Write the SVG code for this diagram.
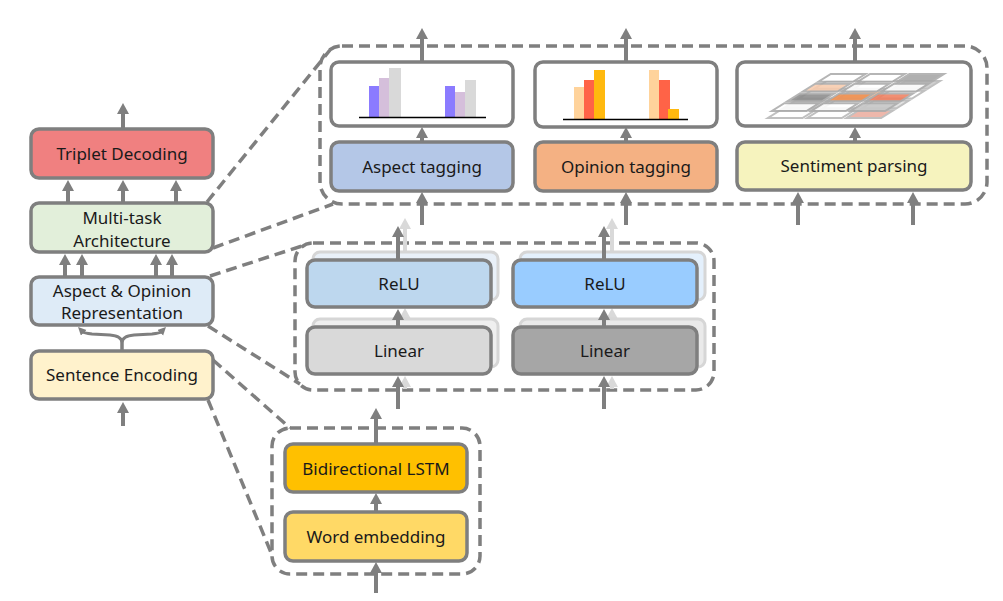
<svg xmlns="http://www.w3.org/2000/svg" width="1003" height="601" viewBox="0 0 1003 601">
<defs>
<style>
.box{stroke:#7F7F7F;stroke-width:3.5}
.sh{stroke:#D6D6D6;stroke-width:3}
.grp{fill:none;stroke:#7F7F7F;stroke-width:3.5;stroke-dasharray:11 6}
.dl{fill:none;stroke:#7F7F7F;stroke-width:3.5;stroke-dasharray:11 6}
.ar{stroke:#7F7F7F;stroke-width:4;fill:none;marker-end:url(#ah)}
.arl{stroke:#D9D9D9;stroke-width:4;fill:none;marker-end:url(#ahl)}
.ars{stroke:#7F7F7F;stroke-width:3;fill:none;marker-end:url(#ahs)}
text{font-family:"Noto Sans","Open Sans","DejaVu Sans",sans-serif;font-size:17px;fill:#1A1A1A;text-anchor:middle}
.cell{stroke:#ABABAB;stroke-width:2}
</style>
<marker id="ah" markerUnits="userSpaceOnUse" markerWidth="14" markerHeight="14" refX="2" refY="6" orient="auto"><path d="M0,0 L11,6 L0,12 z" fill="#7F7F7F"/></marker>
<marker id="ahl" markerUnits="userSpaceOnUse" markerWidth="14" markerHeight="14" refX="2" refY="6" orient="auto"><path d="M0,0 L11,6 L0,12 z" fill="#D9D9D9"/></marker>
<marker id="ahs" markerUnits="userSpaceOnUse" markerWidth="10" markerHeight="10" refX="1" refY="4" orient="auto"><path d="M0,0 L8,4 L0,8 z" fill="#7F7F7F"/></marker>
</defs>
<rect width="1003" height="601" fill="#FFFFFF"/>

<g id="group-outlines">
<rect class="grp" x="320" y="46" width="667" height="158" rx="22"/>
<rect class="grp" x="295" y="243" width="419" height="147" rx="18"/>
<rect class="grp" x="272" y="428" width="208" height="146" rx="18"/>
</g>

<g id="connectors">
<line class="dl" x1="207" y1="202" x2="330" y2="50"/>
<line class="dl" x1="213" y1="248" x2="333" y2="204"/>
<line class="dl" x1="210" y1="276" x2="305" y2="245"/>
<line class="dl" x1="208" y1="326" x2="300" y2="384"/>
<line class="dl" x1="213" y1="360" x2="290" y2="428"/>
<line class="dl" x1="208" y1="400" x2="272" y2="555"/>
<line class="arl" x1="405" y1="252" x2="405" y2="227"/>
<line class="arl" x1="612" y1="252" x2="612" y2="227"/>
<line class="arl" x1="405" y1="320" x2="405" y2="317"/>
<line class="arl" x1="612" y1="320" x2="612" y2="317"/>
<line class="arl" x1="405" y1="389" x2="405" y2="385"/>
<line class="arl" x1="612" y1="389" x2="612" y2="385"/>
</g>

<g id="shadows">
<rect class="sh" x="313" y="252" width="185" height="48" rx="7" fill="#E9F0F8"/>
<rect class="sh" x="313" y="319" width="185" height="48" rx="7" fill="#EFEFEF"/>
<rect class="sh" x="520" y="252" width="185" height="48" rx="7" fill="#E4F0FC"/>
<rect class="sh" x="520" y="319" width="185" height="48" rx="7" fill="#EAEAEA"/>
</g>

<g id="triplet-decoding">
<rect class="box" x="31" y="129" width="182" height="49" rx="8" fill="#F08080"/>
<text x="122" y="160">Triplet Decoding</text>
</g>
<g id="multi-task-architecture">
<rect class="box" x="31" y="203" width="182" height="49" rx="8" fill="#E2EFDA"/>
<text x="122" y="224">Multi-task</text>
<text x="122" y="247">Architecture</text>
</g>
<g id="aspect-opinion-representation">
<rect class="box" x="31" y="277" width="182" height="48" rx="8" fill="#DEEBF7"/>
<text x="122" y="297">Aspect &amp; Opinion</text>
<text x="122" y="319">Representation</text>
</g>
<g id="sentence-encoding">
<rect class="box" x="31" y="351" width="182" height="48" rx="8" fill="#FFF2CC"/>
<text x="122" y="381">Sentence Encoding</text>
</g>

<g id="aspect-chart">
<rect class="box" x="331" y="62" width="182" height="64" rx="8" fill="#FFFFFF"/>
<rect x="369" y="86" width="10" height="31" fill="#8B7BFF"/>
<rect x="379" y="78" width="10" height="39" fill="#D5BFDB"/>
<rect x="389" y="68" width="12" height="49" fill="#D9D9D9"/>
<rect x="445" y="86" width="10" height="31" fill="#8B7BFF"/>
<rect x="455" y="92" width="10" height="25" fill="#D5BFDB"/>
<rect x="465" y="80" width="11" height="37" fill="#D9D9D9"/>
<line x1="359" y1="117.5" x2="486" y2="117.5" stroke="#000" stroke-width="1.5"/>
</g>
<g id="opinion-chart">
<rect class="box" x="535" y="62" width="182" height="65" rx="8" fill="#FFFFFF"/>
<rect x="574" y="87" width="10" height="32" fill="#FFD39B"/>
<rect x="584" y="80" width="10" height="39" fill="#FF6347"/>
<rect x="594" y="70" width="11" height="49" fill="#FFB90F"/>
<rect x="649" y="70" width="10" height="49" fill="#FFD39B"/>
<rect x="659" y="80" width="11" height="39" fill="#FF6347"/>
<rect x="668" y="109" width="11" height="10" fill="#FFB90F"/>
<line x1="563" y1="119.5" x2="688" y2="119.5" stroke="#000" stroke-width="1.5"/>
</g>
<g id="sentiment-grid">
<rect class="box" x="737" y="62" width="234" height="64" rx="8" fill="#FFFFFF"/>
<g opacity="0.75" transform="matrix(39.3,0,-15.5,9.75,826,80)">
<rect class="cell" vector-effect="non-scaling-stroke" x="0.06" y="0.1" width="0.88" height="0.8" fill="#FFFFFF"/>
<rect class="cell" vector-effect="non-scaling-stroke" x="1.06" y="0.1" width="0.88" height="0.8" fill="#FFFFFF"/>
<rect class="cell" vector-effect="non-scaling-stroke" x="2.06" y="0.1" width="0.88" height="0.8" fill="#BFBFBF"/>
<rect class="cell" vector-effect="non-scaling-stroke" x="0.06" y="1.1" width="0.88" height="0.8" fill="#FFFFFF"/>
<rect class="cell" vector-effect="non-scaling-stroke" x="1.06" y="1.1" width="0.88" height="0.8" fill="#F4B183"/>
<rect class="cell" vector-effect="non-scaling-stroke" x="2.06" y="1.1" width="0.88" height="0.8" fill="#FFFFFF"/>
<rect class="cell" vector-effect="non-scaling-stroke" x="0.06" y="2.1" width="0.88" height="0.8" fill="#BFBFBF"/>
<rect class="cell" vector-effect="non-scaling-stroke" x="1.06" y="2.1" width="0.88" height="0.8" fill="#FFFFFF"/>
<rect class="cell" vector-effect="non-scaling-stroke" x="2.06" y="2.1" width="0.88" height="0.8" fill="#D9D9D9"/>
<rect class="cell" vector-effect="non-scaling-stroke" x="0.06" y="3.1" width="0.88" height="0.8" fill="#FFFFFF"/>
<rect class="cell" vector-effect="non-scaling-stroke" x="1.06" y="3.1" width="0.88" height="0.8" fill="#FFFFFF"/>
<rect class="cell" vector-effect="non-scaling-stroke" x="2.06" y="3.1" width="0.88" height="0.8" fill="#E8A090"/>
</g>
<g opacity="0.88" transform="matrix(39.3,0,-15.5,9.75,830,73)">
<rect class="cell" vector-effect="non-scaling-stroke" x="0.06" y="0.1" width="0.88" height="0.8" fill="#FFFFFF"/>
<rect class="cell" vector-effect="non-scaling-stroke" x="1.06" y="0.1" width="0.88" height="0.8" fill="#FFFFFF"/>
<rect class="cell" vector-effect="non-scaling-stroke" x="2.06" y="0.1" width="0.88" height="0.8" fill="#A6A6A6"/>
<rect class="cell" vector-effect="non-scaling-stroke" x="0.06" y="1.1" width="0.88" height="0.8" fill="#F8CBAD"/>
<rect class="cell" vector-effect="non-scaling-stroke" x="1.06" y="1.1" width="0.88" height="0.8" fill="#FFFFFF"/>
<rect class="cell" vector-effect="non-scaling-stroke" x="2.06" y="1.1" width="0.88" height="0.8" fill="#FFFFFF"/>
<rect class="cell" vector-effect="non-scaling-stroke" x="0.06" y="2.1" width="0.88" height="0.8" fill="#8C8C8C"/>
<rect class="cell" vector-effect="non-scaling-stroke" x="1.06" y="2.1" width="0.88" height="0.8" fill="#F09050"/>
<rect class="cell" vector-effect="non-scaling-stroke" x="2.06" y="2.1" width="0.88" height="0.8" fill="#F08060"/>
<rect class="cell" vector-effect="non-scaling-stroke" x="0.06" y="3.1" width="0.88" height="0.8" fill="#FFFFFF"/>
<rect class="cell" vector-effect="non-scaling-stroke" x="1.06" y="3.1" width="0.88" height="0.8" fill="#FFFFFF"/>
<rect class="cell" vector-effect="non-scaling-stroke" x="2.06" y="3.1" width="0.88" height="0.8" fill="#C8C8C8"/>
</g>
</g>
<g id="aspect-tagging">
<rect class="box" x="331" y="142" width="182" height="49" rx="8" fill="#B4C7E7"/>
<text x="422" y="173">Aspect tagging</text>
</g>
<g id="opinion-tagging">
<rect class="box" x="535" y="142" width="182" height="49" rx="8" fill="#F4B183"/>
<text x="626" y="173">Opinion tagging</text>
</g>
<g id="sentiment-parsing">
<rect class="box" x="737" y="142" width="234" height="48" rx="8" fill="#F6F3BE"/>
<text x="854" y="172">Sentiment parsing</text>
</g>

<g id="relu-1">
<rect class="box" x="307" y="260" width="184" height="47" rx="8" fill="#BDD7EE"/>
<text x="399" y="290">ReLU</text>
</g>
<g id="linear-1">
<rect class="box" x="307" y="327" width="184" height="47" rx="8" fill="#D9D9D9"/>
<text x="399" y="357">Linear</text>
</g>
<g id="relu-2">
<rect class="box" x="513" y="260" width="184" height="47" rx="8" fill="#99CCFF"/>
<text x="605" y="290">ReLU</text>
</g>
<g id="linear-2">
<rect class="box" x="513" y="327" width="184" height="47" rx="8" fill="#A6A6A6"/>
<text x="605" y="357">Linear</text>
</g>

<g id="bidirectional-lstm">
<rect class="box" x="285" y="444" width="182" height="48" rx="8" fill="#FFC000"/>
<text x="376" y="475">Bidirectional LSTM</text>
</g>
<g id="word-embedding">
<rect class="box" x="285" y="512" width="182" height="49" rx="8" fill="#FFD966"/>
<text x="376" y="543">Word embedding</text>
</g>

<g id="arrows">
<line class="ar" x1="123" y1="129" x2="123" y2="112"/>
<line class="ar" x1="68" y1="203" x2="68" y2="189"/>
<line class="ar" x1="123" y1="203" x2="123" y2="189"/>
<line class="ar" x1="176" y1="203" x2="176" y2="189"/>
<line class="ar" x1="65" y1="277" x2="65" y2="263"/>
<line class="ar" x1="82" y1="277" x2="82" y2="263"/>
<line class="ar" x1="156" y1="277" x2="156" y2="263"/>
<line class="ar" x1="172" y1="277" x2="172" y2="263"/>
<line class="ar" x1="123" y1="426" x2="123" y2="411"/>
<path class="ars" d="M122,351 L122,343 Q122,336 110,335 L92,334 Q84,333 83,332"/>
<path class="ars" d="M122,351 L122,343 Q122,336 134,335 L152,334 Q160,333 161,332"/>
<line class="ar" x1="422" y1="62" x2="422" y2="37"/>
<line class="ar" x1="626" y1="62" x2="626" y2="37"/>
<line class="ar" x1="855" y1="62" x2="855" y2="37"/>
<line class="ar" x1="422" y1="142" x2="422" y2="136"/>
<line class="ar" x1="626" y1="142" x2="626" y2="136"/>
<line class="ar" x1="855" y1="142" x2="855" y2="136"/>
<line class="ar" x1="422" y1="225" x2="422" y2="201"/>
<line class="ar" x1="626" y1="225" x2="626" y2="201"/>
<line class="ar" x1="798" y1="225" x2="798" y2="201"/>
<line class="ar" x1="913" y1="225" x2="913" y2="201"/>
<line class="ar" x1="398" y1="260" x2="398" y2="235"/>
<line class="ar" x1="604" y1="260" x2="604" y2="235"/>
<line class="ar" x1="398" y1="327" x2="398" y2="318"/>
<line class="ar" x1="604" y1="327" x2="604" y2="318"/>
<line class="ar" x1="398" y1="409" x2="398" y2="385"/>
<line class="ar" x1="604" y1="409" x2="604" y2="385"/>
<line class="ar" x1="376" y1="444" x2="376" y2="417"/>
<line class="ar" x1="376" y1="512" x2="376" y2="502"/>
<line class="ar" x1="376" y1="593" x2="376" y2="571"/>
</g>
</svg>
